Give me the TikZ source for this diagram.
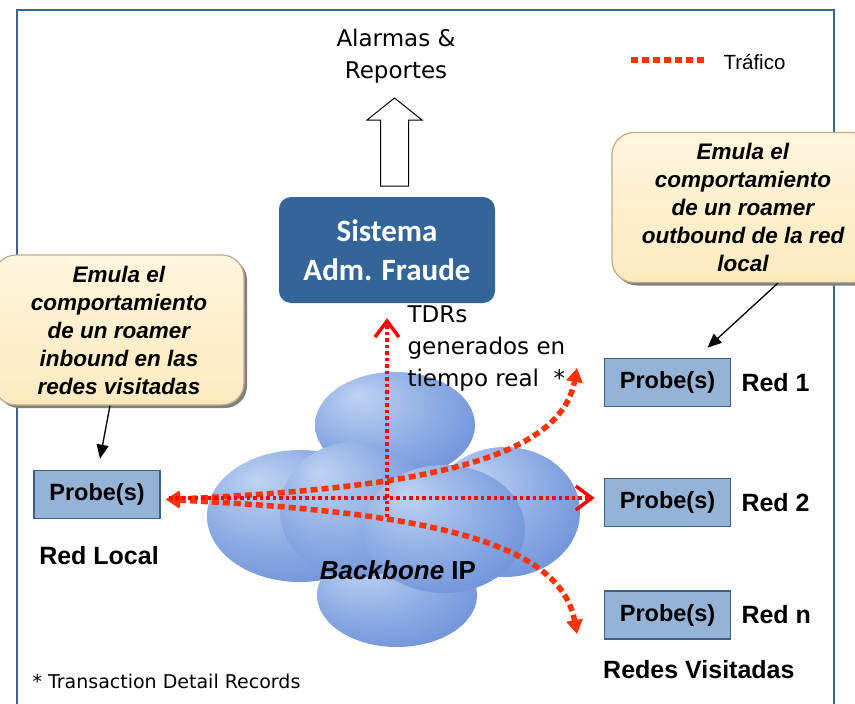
\documentclass[tikz,border=0pt]{standalone}
\usepackage{fontspec}
\setmainfont{Liberation Sans}
\newfontfamily\tahomafont{DejaVu Sans}
\newfontfamily\calibrifont{Carlito}
\usepackage{xcolor}
\definecolor{nwframe}{RGB}{65,98,143}
\definecolor{nwsystem}{RGB}{52,101,152}
\definecolor{nwprobe}{RGB}{149,179,215}
\definecolor{nwprobeedge}{RGB}{62,95,140}
\definecolor{nwnote}{RGB}{252,234,190}
\definecolor{nwnotetop}{RGB}{255,245,222}
\definecolor{nwnoteedge}{RGB}{190,172,135}
\definecolor{nwtraffic}{RGB}{255,51,0}
\definecolor{nwred}{RGB}{255,0,0}
\definecolor{cloudhi}{RGB}{190,211,242}
\definecolor{cloudmid}{RGB}{138,169,227}
\definecolor{cloudlo}{RGB}{86,122,202}
\usepackage{tikz}
\usetikzlibrary{arrows.meta, positioning, calc, shadows}

\pgfdeclareradialshading{cloudball}{\pgfpoint{-12bp}{14bp}}{color(0bp)=(cloudhi); color(22bp)=(cloudmid); color(48bp)=(cloudlo); color(60bp)=(cloudlo)}

\tikzset{
  probebox/.style={draw=nwprobeedge, line width=1.6pt, fill=nwprobe, minimum width=126pt, minimum height=48pt, inner sep=0pt, font=\fontsize{23.5}{28}\selectfont\bfseries},
  netlabel/.style={inner sep=0pt, font=\fontsize{25}{30}\selectfont\bfseries},
  notebox/.style={draw=nwnoteedge, line width=1.2pt, rounded corners=22pt, top color=nwnotetop, bottom color=nwnote, drop shadow={shadow xshift=3pt, shadow yshift=-3pt, fill=black!50, opacity=1}, minimum height=150pt, align=center, font=\fontsize{22.5}{28}\selectfont\bfseries\itshape},
  sysbox/.style={fill=nwsystem, rounded corners=12pt, minimum width=216pt, minimum height=106pt, text=white, align=center, font=\calibrifont\fontsize{31}{39}\selectfont\bfseries},
  plaintext/.style={font=\tahomafont\fontsize{23}{32}\selectfont},
  traffic/.style={nwtraffic, line width=5.5pt, dash pattern=on 7pt off 4pt},
  tdrflow/.style={nwred, line width=3.5pt, dash pattern=on 3.5pt off 3pt},
  traffictip/.style={{Triangle[length=14pt,width=16pt]}-{Triangle[length=14pt,width=16pt]}},
  tdrtip/.style={-{Straight Barb[length=16pt,width=24pt,line width=3.5pt]}},
  pointer/.style={-{Triangle[length=14pt,width=12pt]}, line width=1.3pt}
}

\begin{document}
\begin{tikzpicture}[x=1pt, y=-1pt]
  \useasboundingbox (0,0) rectangle (855,704);

  % --- Frame ---
  \draw[nwframe, line width=2pt] (17,712) -- (17,10) -- (834,10) -- (834,712);

  % --- Cloud: Backbone IP ---
  \shade[shading=cloudball] (395,425) ellipse [x radius=80, y radius=53];
  \shade[shading=cloudball] (300,516) ellipse [x radius=93, y radius=66];
  \shade[shading=cloudball] (505,512) ellipse [x radius=75, y radius=65];
  \shade[shading=cloudball] (397,595) ellipse [x radius=80, y radius=52];
  \shade[shading=cloudball] (355,510) ellipse [x radius=75, y radius=68];
  \shade[shading=cloudball] (444,529) ellipse [x radius=81, y radius=64];
  \node[font=\fontsize{26}{30}\selectfont\bfseries] (bbip) at (398,570) {\textit{Backbone} IP};

  % --- Fraud management system ---
  \node[sysbox] (fms) at (387,250) {Sistema\\Adm. Fraude};
  \draw[line width=1pt, fill=white] (380.5,186) -- (380.5,120) -- (367,120) -- (394.5,98)
    -- (422,120) -- (408.5,120) -- (408.5,186) -- cycle;
  \node[plaintext, align=center] (alarms) at (396,56) {Alarmas \&\\Reportes};
  \node[plaintext, align=left, anchor=west] (tdrs) at (404,349) {TDRs\\generados en\\tiempo real \ *};

  % --- Legend ---
  \coordinate (legA) at (631,60);
  \coordinate (legB) at (707,60);
  \draw[traffic] (legA) -- (legB);
  \node[font=\fontsize{20.5}{24}\selectfont, anchor=west] (legtext) at (720,62) {Tráfico};

  % --- Probes ---
  \node[probebox] (plocal) at (97,494.5) {Probe(s)};
  \node[probebox] (pred1) at (667.5,382.5) {Probe(s)};
  \node[probebox] (pred2) at (667.5,502.5) {Probe(s)};
  \node[probebox] (predn) at (667.5,615) {Probe(s)};
  \node[netlabel, right=10pt of pred1] (lred1) {Red 1};
  \node[netlabel, right=10pt of pred2] (lred2) {Red 2};
  \node[netlabel, right=10pt of predn] (lredn) {Red n};
  \node[netlabel] (lrlocal) at (99,556) {Red Local};
  \node[netlabel, anchor=west] (lvisit) at (603,670) {Redes Visitadas};

  % --- Traffic ---
  \coordinate (to1) at (577,368);
  \coordinate (ton) at (577,634);
  \coordinate (hubc) at (387,517);
  \draw[traffic, traffictip] ([xshift=5pt,yshift=-5pt]plocal.east) .. controls (420,488) and (560,460) .. (to1);
  \draw[traffic, traffictip] ([xshift=5pt,yshift=-5pt]plocal.east) .. controls (420,512) and (560,540) .. (ton);
  \draw[tdrflow, tdrtip] ([xshift=8pt,yshift=-3.5pt]plocal.east) -- ([xshift=-9pt,yshift=4.5pt]pred2.west);
  \draw[tdrflow, tdrtip] (hubc) -- ([yshift=-15pt]fms.south);

  % --- Callouts ---
  \node[notebox, minimum width=250pt] (noteleft) at (119,330) {Emula el\\comportamiento\\de un roamer\\inbound en las\\redes visitadas};
  \node[notebox, minimum width=262pt] (noteright) at (743,207.5) {Emula el\\comportamiento\\de un roamer\\outbound de la red\\local};
  \draw[pointer] ([xshift=-9pt]noteleft.south) -- ([xshift=3pt,yshift=11pt]plocal.north);
  \draw[pointer] ([xshift=35pt]noteright.south) -- ([xshift=40pt,yshift=10pt]pred1.north);

  % --- Footnote ---
  \node[font=\tahomafont\fontsize{19}{24}\selectfont, anchor=west] (foot) at (29,681) {* Transaction Detail Records};
\end{tikzpicture}
\end{document}
